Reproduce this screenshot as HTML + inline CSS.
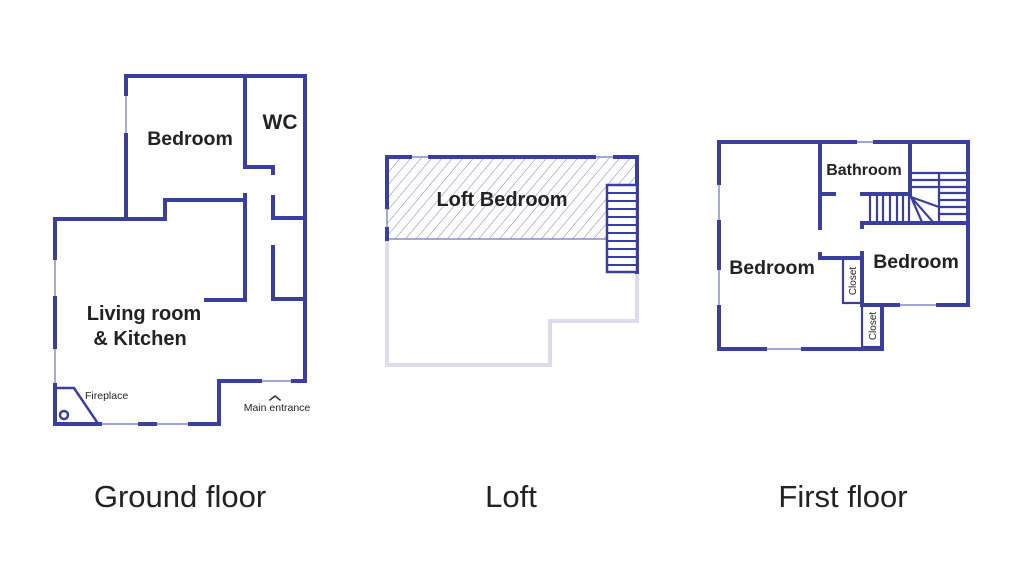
<!DOCTYPE html>
<html><head><meta charset="utf-8"><style>
html,body{margin:0;padding:0;background:#fff;}
svg{display:block;}
text{font-family:"Liberation Sans",sans-serif;fill:#222;}
.b{font-weight:bold;}
</style></head><body>
<svg width="1024" height="585" viewBox="0 0 1024 585" xmlns="http://www.w3.org/2000/svg">
<defs>
<pattern id="h" width="8" height="8" patternUnits="userSpaceOnUse" patternTransform="rotate(40)">
<line x1="0" y1="0" x2="0" y2="8" stroke="#5a5fb0" stroke-width="0.8"/>
</pattern>
</defs>
<g fill="none" stroke="#3a3f9d" stroke-linecap="square">
<g stroke-width="1.2" stroke="#6a6fbf">
<line x1="126" y1="94" x2="126" y2="135"/>
<line x1="55" y1="258" x2="55" y2="298"/>
<line x1="55" y1="347" x2="55" y2="385"/>
<line x1="100" y1="424" x2="140" y2="424"/>
<line x1="155" y1="424" x2="190" y2="424"/>
<line x1="260" y1="381" x2="293" y2="381"/>
</g>
<g stroke-width="4">
<polyline points="126,94 126,76 305,76 305,381 293,381"/>
<polyline points="260,381 219,381 219,424 190,424"/>
<line x1="140" y1="424" x2="155" y2="424"/>
<polyline points="100,424 55,424 55,385"/>
<line x1="55" y1="298" x2="55" y2="347"/>
<polyline points="55,258 55,219 165,219 165,200 245,200"/>
<line x1="126" y1="135" x2="126" y2="219"/>
<polyline points="245,76 245,167 273,167 273,173"/>
<polyline points="245,195 245,300 206,300"/>
<polyline points="273,197 273,218 305,218"/>
<polyline points="273,247 273,299 305,299"/>
</g>
<g stroke-width="2.5">
<polyline points="55,388 74,388 97,422"/>
<circle cx="64" cy="415" r="4"/>
</g>
<path d="M270,400 L275,396 L280,400" stroke-width="1.5" stroke="#333"/>

<rect x="387" y="157" width="250" height="82" fill="url(#h)" stroke="#6a6fbf" stroke-width="1.2"/>
<polyline points="387,239 387,365 550,365 550,321 637,321 637,272" stroke="#dcdcec" stroke-width="4"/>
<g stroke-width="4">
<polyline points="387,207 387,157 410,157"/>
<line x1="430" y1="157" x2="594" y2="157"/>
<polyline points="615,157 637,157 637,272"/>
<line x1="387" y1="229" x2="387" y2="239"/>
</g>
<rect x="607" y="185" width="30" height="87" fill="#fff" stroke-width="2.5"/>
<g stroke-width="2">
<line x1="607" y1="193" x2="637" y2="193"/><line x1="607" y1="201" x2="637" y2="201"/>
<line x1="607" y1="209" x2="637" y2="209"/><line x1="607" y1="217" x2="637" y2="217"/>
<line x1="607" y1="225" x2="637" y2="225"/><line x1="607" y1="233" x2="637" y2="233"/>
<line x1="607" y1="241" x2="637" y2="241"/><line x1="607" y1="249" x2="637" y2="249"/>
<line x1="607" y1="257" x2="637" y2="257"/><line x1="607" y1="265" x2="637" y2="265"/>
</g>

<g stroke-width="1.2" stroke="#6a6fbf">
<line x1="855" y1="142" x2="875" y2="142"/>
<line x1="719" y1="183" x2="719" y2="222"/>
<line x1="719" y1="268" x2="719" y2="307"/>
<line x1="765" y1="349" x2="803" y2="349"/>
<line x1="898" y1="305" x2="938" y2="305"/>
</g>
<g stroke-width="4">
<polyline points="719,183 719,142 855,142"/>
<polyline points="875,142 968,142 968,305 938,305"/>
<line x1="719" y1="222" x2="719" y2="268"/>
<polyline points="719,307 719,349 765,349"/>
<polyline points="803,349 882,349 882,305 898,305"/>
<line x1="862" y1="305" x2="882" y2="305"/>
<line x1="820" y1="142" x2="820" y2="228"/>
<line x1="820" y1="194" x2="834" y2="194"/>
<line x1="910" y1="142" x2="910" y2="195"/>
<polyline points="862,194 910,194"/>
<line x1="862" y1="223" x2="968" y2="223"/>
<line x1="862" y1="223" x2="862" y2="227"/>
<polyline points="820,254 820,258 862,258"/>
<line x1="862" y1="253" x2="862" y2="305"/>
</g>
<g stroke-width="2.2">
<rect x="843" y="258" width="19" height="45"/>
<rect x="862" y="305" width="20" height="42"/>
<line x1="910" y1="173" x2="967" y2="173"/><line x1="910" y1="180" x2="967" y2="180"/>
<line x1="910" y1="187" x2="967" y2="187"/><line x1="939" y1="193" x2="967" y2="193"/>
<line x1="939" y1="200" x2="967" y2="200"/><line x1="939" y1="207" x2="967" y2="207"/>
<line x1="939" y1="214" x2="967" y2="214"/><line x1="939" y1="173" x2="939" y2="222"/>
<line x1="870" y1="195" x2="870" y2="223"/><line x1="877" y1="195" x2="877" y2="223"/>
<line x1="883" y1="195" x2="883" y2="223"/><line x1="890" y1="195" x2="890" y2="223"/>
<line x1="897" y1="195" x2="897" y2="223"/><line x1="903" y1="195" x2="903" y2="223"/>
<line x1="909" y1="195" x2="909" y2="223"/>
<line x1="911" y1="197" x2="939" y2="207"/><line x1="911" y1="197" x2="933" y2="222"/>
<line x1="911" y1="197" x2="922" y2="222"/>
</g>
</g>

<text x="190" y="145" class="b" font-size="19.5" text-anchor="middle">Bedroom</text>
<text x="280" y="129" class="b" font-size="21" text-anchor="middle">WC</text>
<text x="144" y="320" class="b" font-size="20" text-anchor="middle">Living room</text>
<text x="140" y="345" class="b" font-size="20" text-anchor="middle">&amp; Kitchen</text>
<text x="85" y="399" font-size="10.5">Fireplace</text>
<text x="277" y="411" font-size="10.5" text-anchor="middle">Main entrance</text>
<text x="502" y="206" class="b" font-size="20" text-anchor="middle">Loft Bedroom</text>
<text x="864" y="175" class="b" font-size="16" text-anchor="middle">Bathroom</text>
<text x="772" y="274" class="b" font-size="19.5" text-anchor="middle">Bedroom</text>
<text x="916" y="268" class="b" font-size="19.5" text-anchor="middle">Bedroom</text>
<text transform="translate(856,281) rotate(-90)" font-size="10" text-anchor="middle">Closet</text>
<text transform="translate(876,326) rotate(-90)" font-size="10" text-anchor="middle">Closet</text>
<text x="180" y="507" font-size="31" text-anchor="middle">Ground floor</text>
<text x="511" y="507" font-size="31" text-anchor="middle">Loft</text>
<text x="843" y="507" font-size="31" text-anchor="middle">First floor</text>
</svg>
</body></html>
